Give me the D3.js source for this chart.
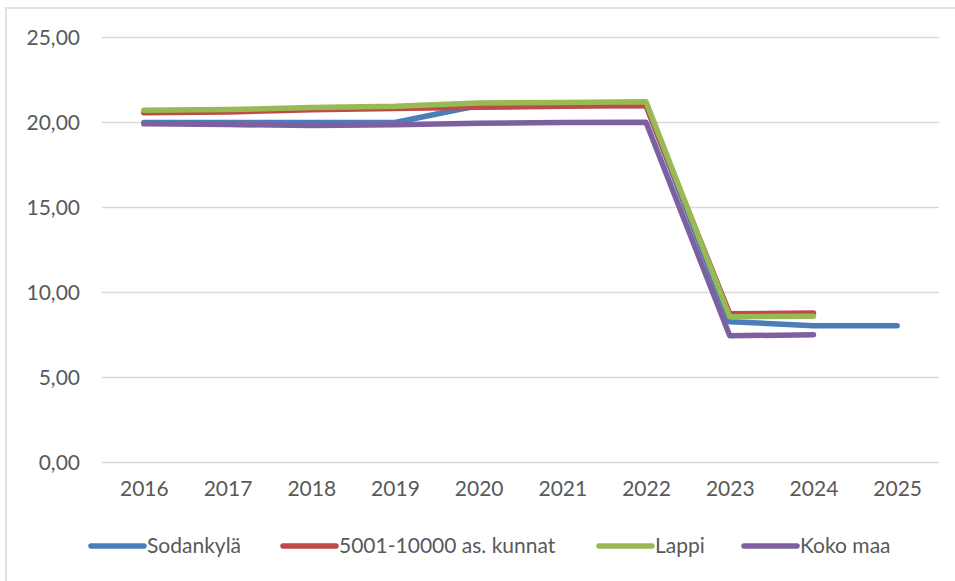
<!DOCTYPE html>
<html><head><meta charset="utf-8">
<script src="https://cdn.jsdelivr.net/npm/d3@7"></script>
<style>
html,body{margin:0;padding:0;background:#fff;}
svg{display:block;font-family:Lato,"Open Sans",sans-serif;}
</style></head>
<body>
<svg id="chart" width="955" height="581"></svg>
<script>
const years = ["2016","2017","2018","2019","2020","2021","2022","2023","2024","2025"];
const yTicks = [0,5,10,15,20,25];
const sodankyla = [20.0,20.0,20.0,20.0,21.0,21.0,21.0,8.28,8.05,8.05];
const kunnat = [20.57,20.62,20.75,20.82,20.9,20.95,21.0,8.75,8.8,null];
const lappi = [20.72,20.76,20.88,20.95,21.15,21.18,21.22,8.58,8.6,null];
const kokomaa = [19.92,19.88,19.82,19.87,19.95,20.0,20.02,7.45,7.52,null];
const seriesNames = ["Sodankylä","5001-10000 as. kunnat","Lappi","Koko maa"];
const seriesColors = ["#4a7ebb","#be4b48","#98b954","#7d60a0"];
const seriesValues = [sodankyla,kunnat,lappi,kokomaa];

const svg = d3.select("#chart");
svg.append("rect").attr("x",6).attr("y",8).attr("width",1000).attr("height",700)
  .attr("fill","none").attr("stroke","#d9d9d9").attr("stroke-width",1.5);

const x = d3.scalePoint().domain(years).range([102,939]).padding(0.5);
const y = d3.scaleLinear().domain([0,25]).range([462.5,37.5]);
const fmt = v => d3.format(".2f")(v).replace(".",",");

// gridlines
svg.append("g").selectAll("line").data(yTicks).join("line")
  .attr("x1",102).attr("x2",939)
  .attr("y1",d=>y(d)).attr("y2",d=>y(d))
  .attr("stroke","#d9d9d9").attr("stroke-width",1.5);

// y axis labels
const yAxis = d3.axisLeft(y).tickValues(yTicks).tickFormat(fmt).tickSize(0).tickPadding(0);
const ya = svg.append("g").attr("transform","translate(80,0)").call(yAxis);
ya.select(".domain").remove();
ya.selectAll("text").attr("fill","#595959").style("font-size","21px").style("font-family","Lato");

// x axis labels
const xAxis = d3.axisBottom(x).tickSize(0).tickPadding(0);
const xa = svg.append("g").attr("transform","translate(0,481)").call(xAxis);
xa.select(".domain").remove();
xa.selectAll("text").attr("fill","#595959").style("font-size","21px").style("font-family","Lato");

// lines
const line = d3.line().defined(d=>d.v!=null).x(d=>x(d.year)).y(d=>y(d.v));
seriesValues.forEach((vals,i)=>{
  svg.append("path")
    .datum(vals.map((v,j)=>({year:years[j],v})))
    .attr("d",line)
    .attr("fill","none")
    .attr("stroke",seriesColors[i])
    .attr("stroke-width",5.5)
    .attr("stroke-linecap","round")
    .attr("stroke-linejoin","round");
});

// legend
const legendX = [88,280,596,741];
const ly = 546;
const lg = svg.append("g");
seriesNames.forEach((n,i)=>{
  lg.append("line").attr("x1",legendX[i]+3).attr("x2",legendX[i]+56)
    .attr("y1",ly).attr("y2",ly)
    .attr("stroke",seriesColors[i]).attr("stroke-width",5.5).attr("stroke-linecap","round");
  lg.append("text").attr("x",legendX[i]+59).attr("y",ly).attr("dy","0.35em")
    .attr("fill","#595959").style("font-size","21px").text(n);
});
</script>
</body></html>
